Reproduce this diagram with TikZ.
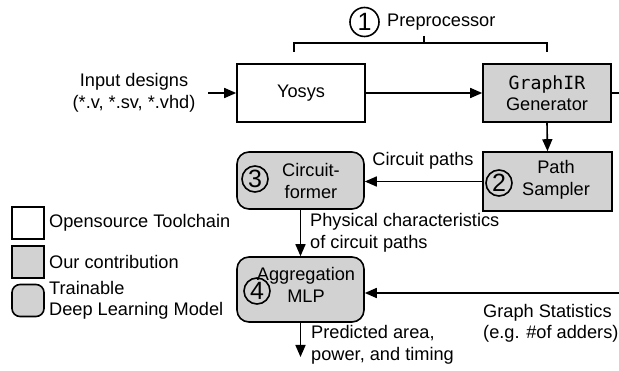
\documentclass[tikz,border=0pt]{standalone}
\usepackage{fontspec}
\setmainfont{Liberation Sans}
\setmonofont{DejaVu Sans Mono}
\usetikzlibrary{arrows.meta,calc}
\definecolor{boxgray}{RGB}{210,210,210}
\tikzset{
  lw/.style={line width=1.6pt},
  tool/.style={lw,draw,fill=white,minimum width=128pt,minimum height=58pt,inner sep=0pt},
  contrib/.style={lw,draw,fill=boxgray,minimum width=128pt,minimum height=58pt,inner sep=0pt},
  model/.style={lw,draw,fill=boxgray,rounded corners=12pt,minimum width=127pt,inner sep=0pt},
  num/.style={lw,draw,circle,inner sep=0pt,minimum size=26pt,font=\fontsize{25}{25}\selectfont},
  txt/.style={inner sep=0pt,align=center},
  conn/.style={lw,-{Triangle[length=12pt,width=10pt]}},
  plain/.style={lw}
}
\begin{document}
\begin{tikzpicture}[x=1pt,y=-1pt,font=\fontsize{18.2}{21.5}\selectfont]
\useasboundingbox (0,0) rectangle (619,371);
% main boxes
\node[tool] (yosys) at (301,93) {Yosys};
\node[contrib,align=center] (graphir) at (547,93) {\texttt{GraphIR}\\[-1pt]Generator};
\node[contrib,minimum width=129pt,minimum height=59pt] (ps) at (547.5,181.5) {};
\node[num] (n2) at (499,183) {2};
\node[txt] (pstxt) at (556,180) {Path\\Sampler};
\node[model,minimum height=57pt] (cf) at (300.5,180.5) {};
\node[num] (n3) at (255,179) {3};
\node[txt] (cftxt) at (311,181) {Circuit-\\former};
\node[model,minimum height=65pt] (agg) at (300.5,289.5) {};
\node[num] (n4) at (257,291) {4};
\node[txt] (aggtxt) at (306,285) {Aggregation\\MLP};
% preprocessor bracket
\node[num,minimum size=29pt] (n1) at (364.5,22) {1};
\node[txt,anchor=west] (pre) at (387,22) {Preprocessor};
\coordinate (bl) at (294,52);
\coordinate (br) at (547,52);
\coordinate (bm) at (424,36);
\draw[plain] (bl) -- (bl |- 0,43) -- (br |- 0,43) -- (br);
\draw[plain] (bm) -- (bm |- 0,43);
% input
\node[txt] (input) at (134,93) {Input designs\\(*.v, *.sv, *.vhd)};
\coordinate (inend) at (208,93);
\draw[conn] (inend) -- (yosys.west);
\draw[conn] (yosys.east) -- (graphir.west);
\coordinate (gout) at (619,93);
\draw[plain] (graphir.east) -- (gout);
\draw[conn] (graphir.south) -- (ps.north);
\draw[conn] (ps.west) -- (ps.west -| cf.east);
\node[txt] (cplab) at (423,161) {Circuit paths};
\draw[conn] (cf.south) -- (agg.north);
\node[txt,anchor=west,align=left] (phys) at (310,233) {Physical characteristics\\of circuit paths};
\coordinate (gs) at (619,293);
\draw[conn] (gs) -- (gs -| agg.east);
\node[txt,anchor=west,align=left] (gstat) at (483,323.5) {Graph Statistics\\(e.g. \#of adders)};
\coordinate (outend) at (300.5,357);
\draw[conn] (agg.south) -- (outend);
\node[txt,anchor=west,align=left] (pred) at (311,345) {Predicted area,\\power, and timing};
% legend
\node[lw,draw,fill=white,minimum size=32pt,inner sep=0pt] (lg1) at (28,223) {};
\node[txt,anchor=west] (lg1t) at (49,223) {Opensource Toolchain};
\node[lw,draw,fill=boxgray,minimum size=32pt,inner sep=0pt] (lg2) at (28,262) {};
\node[txt,anchor=west] (lg2t) at (49,262) {Our contribution};
\node[lw,draw,fill=boxgray,rounded corners=8pt,minimum size=32pt,inner sep=0pt] (lg3) at (28,300.5) {};
\node[txt,anchor=west,align=left] (lg3t) at (49,300.5) {Trainable\\Deep Learning Model};
\end{tikzpicture}
\end{document}
